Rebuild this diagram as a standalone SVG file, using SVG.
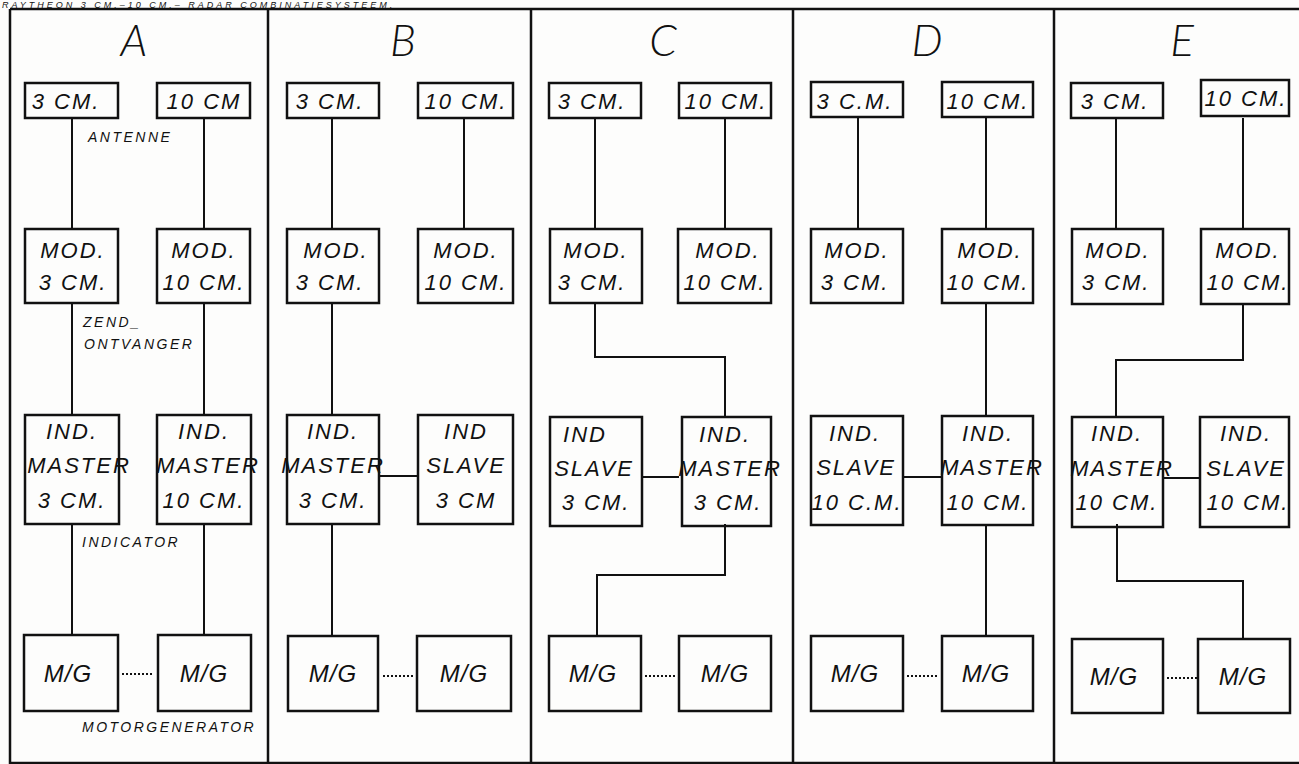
<svg xmlns="http://www.w3.org/2000/svg" width="1299" height="764" viewBox="0 0 1299 764">
<style>
.bg{fill:#fdfdfc}
.frame{fill:none;stroke:#111;stroke-width:2.5}
.box{fill:none;stroke:#111;stroke-width:2.5}
.wire{fill:none;stroke:#111;stroke-width:2}
.dot{fill:none;stroke:#111;stroke-width:2;stroke-dasharray:2 2}
text{font-family:"Liberation Sans",Arial,sans-serif;font-style:italic;fill:#111}
.t{font-size:22px;letter-spacing:2px;text-anchor:middle}
.mg{font-size:24px;letter-spacing:1px;text-anchor:middle}
.lbl{font-size:14px;letter-spacing:2.5px}
.big{font-family:Lato,"Liberation Sans",sans-serif;font-size:44px;text-anchor:middle;font-weight:300}
.title{font-size:9px;letter-spacing:3px}
</style>
<rect class="bg" x="0" y="0" width="1299" height="764"/>
<text class="title" x="2" y="7.5">RAYTHEON 3 CM.–10 CM.– RADAR COMBINATIESYSTEEM.</text>
<g id="frame">
<path class="frame" d="M10,9 H1299 M10,9 V763 H1299 M268,9 V763 M531,9 V763 M793,9 V763 M1054,9 V763"/>
</g>
<g id="panel-letters">
<text class="big" x="134" y="56">A</text>
<text class="big" x="403" y="56">B</text>
<text class="big" x="663" y="56">C</text>
<text class="big" x="927" y="56">D</text>
<text class="big" x="1182" y="56">E</text>
</g>
<g id="labels">
<text class="lbl" x="88" y="142">ANTENNE</text>
<text class="lbl" x="83" y="327">ZEND_</text>
<text class="lbl" x="84" y="349">ONTVANGER</text>
<text class="lbl" x="82" y="547">INDICATOR</text>
<text class="lbl" x="82" y="732">MOTORGENERATOR</text>
</g>
<g id="connectors">
<path class="wire" d="M72,118 V229 M72,303 V415 M72,524 V636 M204,118 V229 M204,303 V415 M204,524 V636"/>
<path class="wire" d="M332,118 V229 M332,303 V415 M332,524 V636 M464,118 V229 M379,476 H418"/>
<path class="wire" d="M595,118 V229 M725,118 V229 M595,303 V357 H725 V416 M641,477 H679 M725,524 V575 H597 V636"/>
<path class="wire" d="M858,118 V229 M986,118 V229 M986,303 V415 M903,477 H942 M986,524 V636"/>
<path class="wire" d="M1116,118 V229 M1243,118 V229 M1243,303 V360 H1116 V416 M1163,478 H1200 M1117,524 V581 H1243 V638"/>
<path class="dot" d="M122,674 H154 M383,676 H414 M645,676 H676 M907,676 H938 M1167,678 H1197"/>
</g>
<!-- Panel A -->
<g id="A-ant3"><rect class="box" x="25" y="83" width="93" height="35"/><text class="t" x="66" y="109">3 CM.</text></g>
<g id="A-ant10"><rect class="box" x="157" y="83" width="93" height="35"/><text class="t" x="204" y="109">10 CM</text></g>
<g id="A-mod3"><rect class="box" x="25" y="229" width="93" height="74"/><text class="t" x="73" y="258">MOD.</text><text class="t" x="73" y="290">3 CM.</text></g>
<g id="A-mod10"><rect class="box" x="157" y="229" width="93" height="74"/><text class="t" x="204" y="258">MOD.</text><text class="t" x="204" y="290">10 CM.</text></g>
<g id="A-ind3"><rect class="box" x="25" y="415" width="94" height="109"/><text class="t" x="72" y="439">IND.</text><text class="t" x="79" y="473">MASTER</text><text class="t" x="72" y="508">3 CM.</text></g>
<g id="A-ind10"><rect class="box" x="157" y="415" width="94" height="109"/><text class="t" x="204" y="439">IND.</text><text class="t" x="208" y="473">MASTER</text><text class="t" x="204" y="508">10 CM.</text></g>
<g id="A-mg1"><rect class="box" x="24" y="635" width="94" height="76"/><text class="mg" x="68" y="682">M/G</text></g>
<g id="A-mg2"><rect class="box" x="158" y="635" width="93" height="76"/><text class="mg" x="204" y="682">M/G</text></g>
<!-- Panel B -->
<g id="B-ant3"><rect class="box" x="287" y="83" width="92" height="35"/><text class="t" x="330" y="109">3 CM.</text></g>
<g id="B-ant10"><rect class="box" x="418" y="83" width="95" height="35"/><text class="t" x="466" y="109">10 CM.</text></g>
<g id="B-mod3"><rect class="box" x="287" y="229" width="92" height="74"/><text class="t" x="336" y="258">MOD.</text><text class="t" x="330" y="290">3 CM.</text></g>
<g id="B-mod10"><rect class="box" x="418" y="229" width="95" height="74"/><text class="t" x="466" y="258">MOD.</text><text class="t" x="466" y="290">10 CM.</text></g>
<g id="B-ind-master"><rect class="box" x="287" y="415" width="92" height="109"/><text class="t" x="333" y="439">IND.</text><text class="t" x="333" y="473">MASTER</text><text class="t" x="333" y="508">3 CM.</text></g>
<g id="B-ind-slave"><rect class="box" x="418" y="415" width="95" height="109"/><text class="t" x="466" y="439">IND</text><text class="t" x="466" y="473">SLAVE</text><text class="t" x="466" y="508">3 CM</text></g>
<g id="B-mg1"><rect class="box" x="288" y="636" width="90" height="75"/><text class="mg" x="333" y="682">M/G</text></g>
<g id="B-mg2"><rect class="box" x="417" y="636" width="94" height="75"/><text class="mg" x="464" y="682">M/G</text></g>
<!-- Panel C -->
<g id="C-ant3"><rect class="box" x="549" y="83" width="92" height="35"/><text class="t" x="592" y="109">3 CM.</text></g>
<g id="C-ant10"><rect class="box" x="679" y="83" width="92" height="35"/><text class="t" x="726" y="109">10 CM.</text></g>
<g id="C-mod3"><rect class="box" x="550" y="229" width="92" height="74"/><text class="t" x="596" y="258">MOD.</text><text class="t" x="592" y="290">3 CM.</text></g>
<g id="C-mod10"><rect class="box" x="678" y="229" width="93" height="74"/><text class="t" x="728" y="258">MOD.</text><text class="t" x="725" y="290">10 CM.</text></g>
<g id="C-ind-slave"><rect class="box" x="550" y="417" width="92" height="109"/><text class="t" x="585" y="442">IND</text><text class="t" x="594" y="476">SLAVE</text><text class="t" x="596" y="510">3 CM.</text></g>
<g id="C-ind-master"><rect class="box" x="682" y="417" width="89" height="109"/><text class="t" x="725" y="442">IND.</text><text class="t" x="730" y="476">MASTER</text><text class="t" x="728" y="510">3 CM.</text></g>
<g id="C-mg1"><rect class="box" x="549" y="636" width="92" height="75"/><text class="mg" x="593" y="682">M/G</text></g>
<g id="C-mg2"><rect class="box" x="679" y="636" width="92" height="75"/><text class="mg" x="725" y="682">M/G</text></g>
<!-- Panel D -->
<g id="D-ant3"><rect class="box" x="811" y="82" width="92" height="35"/><text class="t" x="855" y="109">3 C.M.</text></g>
<g id="D-ant10"><rect class="box" x="942" y="82" width="91" height="35"/><text class="t" x="988" y="109">10 CM.</text></g>
<g id="D-mod3"><rect class="box" x="811" y="229" width="92" height="74"/><text class="t" x="857" y="258">MOD.</text><text class="t" x="855" y="290">3 CM.</text></g>
<g id="D-mod10"><rect class="box" x="942" y="229" width="91" height="74"/><text class="t" x="990" y="258">MOD.</text><text class="t" x="988" y="290">10 CM.</text></g>
<g id="D-ind-slave"><rect class="box" x="811" y="416" width="92" height="109"/><text class="t" x="855" y="441">IND.</text><text class="t" x="856" y="475">SLAVE</text><text class="t" x="857" y="510">10 C.M.</text></g>
<g id="D-ind-master"><rect class="box" x="942" y="416" width="91" height="109"/><text class="t" x="988" y="441">IND.</text><text class="t" x="992" y="475">MASTER</text><text class="t" x="988" y="510">10 CM.</text></g>
<g id="D-mg1"><rect class="box" x="811" y="636" width="92" height="75"/><text class="mg" x="855" y="682">M/G</text></g>
<g id="D-mg2"><rect class="box" x="942" y="636" width="91" height="75"/><text class="mg" x="986" y="682">M/G</text></g>
<!-- Panel E -->
<g id="E-ant3"><rect class="box" x="1071" y="83" width="92" height="35"/><text class="t" x="1115" y="109">3 CM.</text></g>
<g id="E-ant10"><rect class="box" x="1201" y="80" width="88" height="36"/><text class="t" x="1246" y="106">10 CM.</text></g>
<g id="E-mod3"><rect class="box" x="1072" y="229" width="91" height="75"/><text class="t" x="1118" y="258">MOD.</text><text class="t" x="1116" y="290">3 CM.</text></g>
<g id="E-mod10"><rect class="box" x="1201" y="229" width="88" height="75"/><text class="t" x="1248" y="258">MOD.</text><text class="t" x="1248" y="290">10 CM.</text></g>
<g id="E-ind-master"><rect class="box" x="1072" y="417" width="91" height="110"/><text class="t" x="1117" y="441">IND.</text><text class="t" x="1122" y="476">MASTER</text><text class="t" x="1117" y="510">10 CM.</text></g>
<g id="E-ind-slave"><rect class="box" x="1200" y="417" width="89" height="110"/><text class="t" x="1246" y="441">IND.</text><text class="t" x="1246" y="476">SLAVE</text><text class="t" x="1248" y="510">10 CM.</text></g>
<g id="E-mg1"><rect class="box" x="1072" y="639" width="91" height="74"/><text class="mg" x="1114" y="685">M/G</text></g>
<g id="E-mg2"><rect class="box" x="1198" y="639" width="92" height="74"/><text class="mg" x="1243" y="685">M/G</text></g>
</svg>
